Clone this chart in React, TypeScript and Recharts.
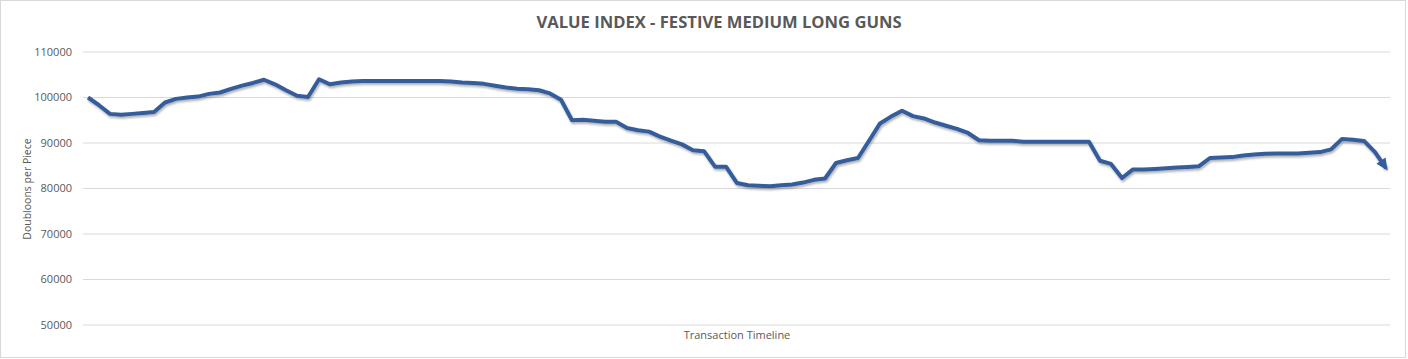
import { CartesianGrid, Line, LineChart, XAxis, YAxis } from "recharts";

const chartTitle = "VALUE INDEX - FESTIVE MEDIUM LONG GUNS";
const xTitle = "Transaction Timeline";
const yTitle = "Doubloons per Piece";

const yTicks = [50000, 60000, 70000, 80000, 90000, 100000, 110000];

// doubloons per piece, one per transaction
const values = [
  100000, 98300, 96400, 96200, 96400, 96600, 96800, 98900, 99700, 100000,
  100200, 100800, 101100, 101900, 102600, 103200, 103900, 102900, 101600, 100400,
  100100, 104000, 102900, 103300, 103500, 103600, 103600, 103600, 103600, 103600,
  103600, 103600, 103600, 103500, 103300, 103200, 103000, 102600, 102200, 101900,
  101800, 101600, 100900, 99500, 95000, 95100, 94900, 94650, 94650, 93300,
  92800, 92500, 91400, 90500, 89700, 88400, 88200, 84800, 84800, 81200,
  80700, 80600, 80500, 80700, 80900, 81300, 81900, 82200, 85600, 86200,
  86700, 90500, 94300, 95800, 97100, 95900, 95400, 94500, 93800, 93100,
  92200, 90600, 90500, 90500, 90500, 90300, 90250, 90250, 90250, 90250,
  90250, 90250, 86100, 85400, 82300, 84200, 84200, 84300, 84450, 84600,
  84750, 84900, 86700, 86800, 86900, 87250, 87450, 87650, 87700, 87700,
  87700, 87850, 88000, 88600, 90900, 90700, 90450, 88000, 84500,
];

const rows = values.map((value, i) => ({ step: i + 1, value }));

const LINE = "#355d9c";
const TEXT = "#595959";
const FONT = "'Open Sans', sans-serif";

function ArrowEnd(props: any) {
  const { cx, cy, index } = props;
  if (index !== values.length - 1 || cx == null) return <g key={`d${index}`} />;
  return (
    <path
      key={`d${index}`}
      d="M3,0 L-9,-5.5 L-9,5.5 Z"
      transform={`translate(${cx},${cy}) rotate(56)`}
      fill={LINE}
    />
  );
}

export default function App() {
  return (
    <div style={{ position: "absolute", left: 0, top: 0, width: 1408, height: 359, background: "#fff", fontFamily: FONT }}>
      <div
        style={{
          position: "absolute",
          left: 0,
          top: 0,
          width: 1404,
          height: 356,
          border: "1px solid #d9d9d9",
        }}
      />
      <div
        style={{
          position: "absolute",
          left: 0,
          top: 10,
          width: 1438,
          textAlign: "center",
          fontWeight: 700,
          fontSize: 16.6,
          color: TEXT,
        }}
      >
        {chartTitle}
      </div>
      <div
        style={{
          position: "absolute",
          left: 27,
          top: 189,
          transform: "translate(-50%, -50%) rotate(-90deg)",
          whiteSpace: "nowrap",
          fontSize: 10.5,
          color: TEXT,
        }}
      >
        {yTitle}
      </div>
      <div
        style={{
          position: "absolute",
          left: 0,
          top: 327,
          width: 1474,
          textAlign: "center",
          fontSize: 11,
          color: TEXT,
        }}
      >
        {xTitle}
      </div>
      <LineChart width={1408} height={359} data={rows} margin={{ top: 52, right: 18, bottom: 0, left: 0 }}>
        <defs>
          <filter id="lineShadow" x="-5%" y="-30%" width="110%" height="160%">
            <feDropShadow dx="1" dy="2" stdDeviation="1.3" floodColor="#000" floodOpacity="0.3" />
          </filter>
        </defs>
        <CartesianGrid vertical={false} stroke="#d9d9d9" />
        <XAxis dataKey="step" tick={false} axisLine={false} tickLine={false} height={34} padding={{ left: 5, right: 4 }} />
        <YAxis
          domain={[50000, 110000]}
          ticks={yTicks}
          width={83}
          axisLine={false}
          tickLine={false}
          tickSize={0}
          tickMargin={11}
          tick={{ fontSize: 11, fill: TEXT, fontFamily: FONT }}
        />
        <Line
          type="linear"
          dataKey="value"
          stroke={LINE}
          strokeWidth={4}
          strokeLinejoin="round"
          filter="url(#lineShadow)"
          dot={ArrowEnd}
          activeDot={false}
          isAnimationActive={false}
        />
      </LineChart>
    </div>
  );
}
